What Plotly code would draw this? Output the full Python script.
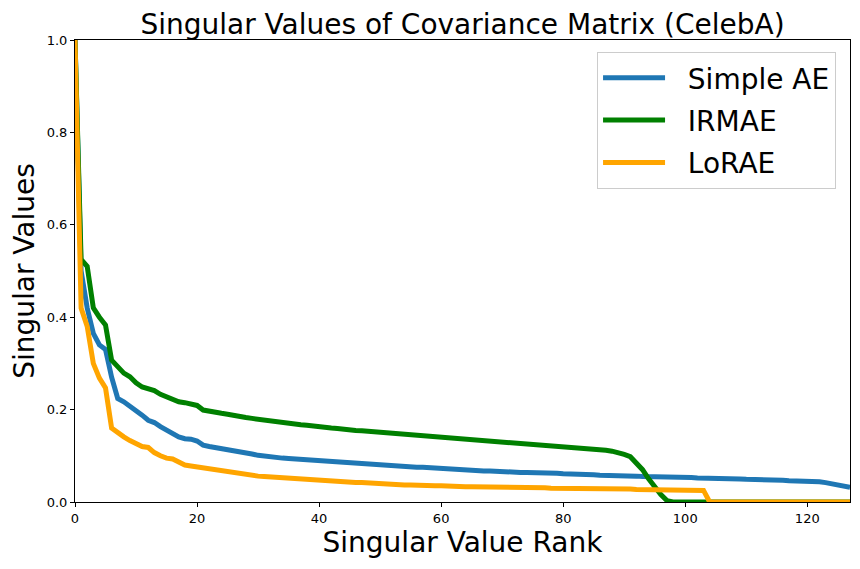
import plotly.graph_objects as go

rank = list(range(128))

simple_ae = [
    1.0, 0.50, 0.42, 0.365, 0.34, 0.33, 0.27, 0.224, 0.217, 0.208,
    0.196, 0.188, 0.177, 0.172, 0.163, 0.155, 0.150, 0.141, 0.137, 0.136,
    0.132, 0.123, 0.120, 0.118, 0.116, 0.113, 0.111, 0.109, 0.107, 0.104,
    0.101, 0.099, 0.098, 0.096, 0.095, 0.094, 0.093, 0.092, 0.091, 0.090,
    0.089, 0.088, 0.087, 0.086, 0.085, 0.085, 0.084, 0.083, 0.082, 0.081,
    0.080, 0.079, 0.078, 0.077, 0.076, 0.076, 0.075, 0.075, 0.074, 0.073,
    0.072, 0.071, 0.071, 0.070, 0.069, 0.069, 0.068, 0.067, 0.067, 0.066,
    0.066, 0.065, 0.065, 0.064, 0.064, 0.064, 0.063, 0.063, 0.062, 0.062,
    0.061, 0.061, 0.060, 0.060, 0.059, 0.059, 0.058, 0.058, 0.058, 0.057,
    0.057, 0.056, 0.056, 0.055, 0.055, 0.055, 0.054, 0.054, 0.054, 0.053,
    0.053, 0.053, 0.052, 0.052, 0.052, 0.051, 0.051, 0.050, 0.050, 0.050,
    0.049, 0.049, 0.048, 0.048, 0.047, 0.047, 0.047, 0.046, 0.046, 0.045,
    0.045, 0.044, 0.044, 0.042, 0.040, 0.038, 0.036, 0.032,
]

irmae = [
    1.0, 0.525, 0.51, 0.42, 0.40, 0.383, 0.307, 0.293, 0.279, 0.271,
    0.258, 0.249, 0.246, 0.241, 0.233, 0.228, 0.221, 0.217, 0.215, 0.212,
    0.209, 0.199, 0.196, 0.194, 0.192, 0.190, 0.187, 0.184, 0.183, 0.181,
    0.179, 0.177, 0.175, 0.173, 0.172, 0.170, 0.168, 0.167, 0.166, 0.164,
    0.162, 0.161, 0.160, 0.159, 0.157, 0.156, 0.155, 0.154, 0.153, 0.152,
    0.151, 0.150, 0.148, 0.147, 0.146, 0.145, 0.144, 0.143, 0.142, 0.141,
    0.139, 0.138, 0.138, 0.137, 0.136, 0.135, 0.134, 0.133, 0.132, 0.131,
    0.130, 0.129, 0.128, 0.127, 0.127, 0.126, 0.125, 0.124, 0.123, 0.121,
    0.120, 0.119, 0.118, 0.117, 0.116, 0.115, 0.113, 0.112, 0.110, 0.107,
    0.103, 0.098, 0.085, 0.070, 0.050, 0.032, 0.016, 0.003, 0.0, 0.0,
    0.0, 0.0, 0.0, 0.0, 0.0, 0.0, 0.0, 0.0, 0.0, 0.0,
    0.0, 0.0, 0.0, 0.0, 0.0, 0.0, 0.0, 0.0, 0.0, 0.0,
    0.0, 0.0, 0.0, 0.0, 0.0, 0.0, 0.0, 0.0,
]

lorae = [
    1.0, 0.42, 0.38, 0.30, 0.268, 0.247, 0.16, 0.149, 0.141, 0.133,
    0.126, 0.120, 0.118, 0.107, 0.100, 0.095, 0.093, 0.087, 0.080, 0.078,
    0.076, 0.074, 0.071, 0.069, 0.066, 0.064, 0.063, 0.062, 0.060, 0.058,
    0.056, 0.055, 0.054, 0.053, 0.052, 0.051, 0.050, 0.049, 0.048, 0.047,
    0.046, 0.045, 0.045, 0.044, 0.043, 0.043, 0.042, 0.042, 0.041, 0.041,
    0.040, 0.039, 0.038, 0.038, 0.037, 0.037, 0.036, 0.036, 0.035, 0.035,
    0.035, 0.034, 0.034, 0.034, 0.033, 0.033, 0.033, 0.033, 0.032, 0.032,
    0.032, 0.032, 0.031, 0.031, 0.031, 0.031, 0.031, 0.031, 0.030, 0.030,
    0.030, 0.030, 0.029, 0.029, 0.029, 0.029, 0.029, 0.028, 0.028, 0.028,
    0.028, 0.028, 0.027, 0.027, 0.027, 0.027, 0.027, 0.026, 0.026, 0.026,
    0.026, 0.026, 0.026, 0.025, 0.0, 0.0, 0.0, 0.0, 0.0, 0.0,
    0.0, 0.0, 0.0, 0.0, 0.0, 0.0, 0.0, 0.0, 0.0, 0.0,
    0.0, 0.0, 0.0, 0.0, 0.0, 0.0, 0.0, 0.0,
]

series = [
    ("Simple AE", simple_ae, "#1f77b4"),
    ("IRMAE", irmae, "green"),
    ("LoRAE", lorae, "orange"),
]

x_ticks = [0, 20, 40, 60, 80, 100, 120]
y_ticks = [0.0, 0.2, 0.4, 0.6, 0.8, 1.0]

fig = go.Figure()
for name, vals, color in series:
    fig.add_trace(go.Scatter(
        x=rank, y=vals, mode="lines", name="\u00a0\u00a0" + name, legendgroup=name,
        line=dict(color=color, width=5),
    ))

# page body has an 8px margin, so the figure is 8px smaller and shifted
W, H = 852, 561
font_family = "DejaVu Sans"
fig.update_layout(
    width=W, height=H,
    margin=dict(l=67, r=10, t=32, b=67, autoexpand=False),
    paper_bgcolor="white", plot_bgcolor="white",
    font=dict(family=font_family, color="black", size=13),
    title=dict(text="Singular Values of Covariance Matrix (CelebA)",
               x=(67 + 842) / 2 / W, xanchor="center", y=1 - 16 / H, yanchor="middle",
               font=dict(size=28, family=font_family, color="black")),
    showlegend=True,
    legend=dict(
        x=0.982, y=0.974, xanchor="right", yanchor="top",
        bgcolor="rgba(255,255,255,0.8)", bordercolor="#cccccc", borderwidth=1,
        font=dict(size=28, family=font_family, color="black"),
        tracegroupgap=3, traceorder="grouped", itemwidth=62,
    ),
    xaxis=dict(
        range=[0, 127], tickvals=x_ticks, ticktext=[str(v) for v in x_ticks],
        showgrid=False, zeroline=False, showline=True, linecolor="black", linewidth=1,
        mirror=True, ticks="outside", ticklen=4, tickcolor="black", automargin=False,
        tickfont=dict(size=13),
        title=dict(text="Singular Value Rank", font=dict(size=28, family=font_family), standoff=6),
    ),
    yaxis=dict(
        range=[0, 1], tickvals=y_ticks, ticktext=[f"{v:.1f}" for v in y_ticks],
        showgrid=False, zeroline=False, showline=True, linecolor="black", linewidth=1,
        mirror=True, ticks="outside", ticklen=4, tickcolor="black", automargin=False,
        tickfont=dict(size=13),
        title=dict(text="Singular Values", font=dict(size=28, family=font_family), standoff=8),
    ),
)

fig.write_html("out.html")
